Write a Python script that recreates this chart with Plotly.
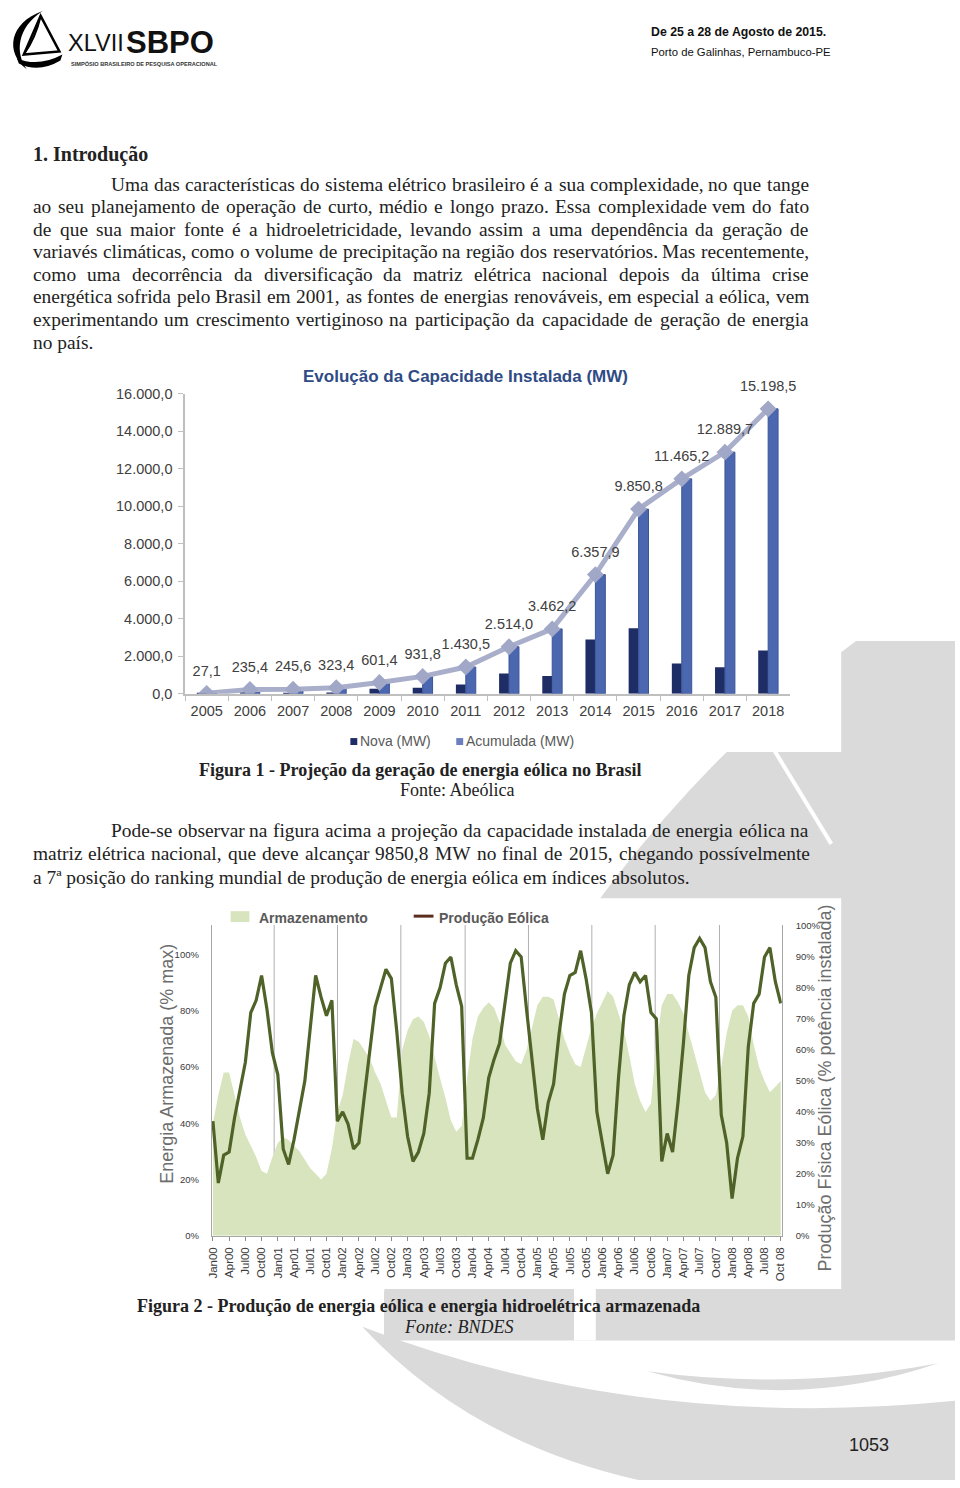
import unicodedata
import plotly.graph_objects as go

W, H = 960, 1488
def px(x): return x / W
def py(y): return 1 - y / H

# ---------------- Figure 1 data ----------------
years = ["2005", "2006", "2007", "2008", "2009", "2010", "2011",
         "2012", "2013", "2014", "2015", "2016", "2017", "2018"]
nova = [27.1, 208.3, 10.2, 77.8, 278.0, 330.4, 498.7,
        1083.5, 948.2, 2895.7, 3492.9, 1614.4, 1424.5, 2308.8]
acumulada = [27.1, 235.4, 245.6, 323.4, 601.4, 931.8, 1430.5,
             2514.0, 3462.2, 6357.9, 9850.8, 11465.2, 12889.7, 15198.5]
cap_ticks = [0, 2000, 4000, 6000, 8000, 10000, 12000, 14000, 16000]
cap_ticktext = ["0,0", "2.000,0", "4.000,0", "6.000,0", "8.000,0",
                "10.000,0", "12.000,0", "14.000,0", "16.000,0"]

# ---------------- Figure 2 data ----------------
MONTHS = ["Jan", "Feb", "Mar", "Apr", "May", "Jun", "Jul", "Aug", "Sep", "Oct", "Nov", "Dec"]
YRS = ["00", "01", "02", "03", "04", "05", "06", "07", "08"]
months = [m + y for y in YRS for m in MONTHS][:106]
armazenamento = [40, 50, 58, 58, 50, 42, 36, 32, 28, 23,
                 22, 28, 33, 35, 34, 32, 30, 27, 24, 22,
                 20, 22, 31, 44, 50, 61, 70, 69, 66, 63,
                 58, 54, 48, 42, 42, 66, 73, 77, 78, 76,
                 71, 64, 56, 49, 41, 37, 39, 56, 70, 78,
                 81, 83, 81, 76, 68, 65, 62, 61, 66, 74,
                 82, 85, 85, 84, 77, 70, 65, 61, 60, 67,
                 74, 79, 83, 87, 85, 79, 73, 64, 54, 48,
                 44, 47, 68, 82, 86, 86, 83, 79, 72, 66,
                 58, 51, 48, 50, 60, 72, 80, 82, 82, 78,
                 68, 60, 55, 51, 53, 55]
producao = [37, 17, 26, 27, 38, 47, 56, 72, 76, 84,
            73, 59, 52, 28, 23, 31, 40, 50, 67, 84,
            77, 71, 76, 37, 40, 36, 28, 30, 45, 60,
            74, 80, 86, 83, 66, 46, 32, 24, 27, 33,
            46, 75, 80, 88, 90, 81, 74, 25, 25, 31,
            38, 51, 57, 62, 75, 88, 92, 90, 73, 58,
            41, 31, 43, 49, 65, 78, 84, 85, 92, 83,
            72, 40, 30, 20, 26, 51, 71, 81, 85, 82,
            84, 72, 70, 24, 33, 27, 43, 62, 84, 93,
            96, 93, 82, 77, 39, 30, 12, 25, 32, 61,
            75, 78, 90, 93, 82, 75]
x_ticktext = ["Jan00", "Apr00", "Jul00", "Oct00", "Jan01", "Apr01", "Jul01", "Oct01",
              "Jan02", "Apr02", "Jul02", "Oct02", "Jan03", "Apr03", "Jul03", "Oct03",
              "Jan04", "Apr04", "Jul04", "Oct04", "Jan05", "Apr05", "Jul05", "Oct05",
              "Jan06", "Apr06", "Jul06", "Oct06", "Jan07", "Apr07", "Jul07", "Oct07",
              "Jan08", "Apr08", "Jul08", "Oct 08"]
left_ticks = [0, 20, 40, 60, 80, 100]
left_ticktext = ["0%", "20%", "40%", "60%", "80%", "100%"]
right_ticks = [0, 10, 20, 30, 40, 50, 60, 70, 80, 90, 100]
right_ticktext = ["0%", "10%", "20%", "30%", "40%", "50%", "60%", "70%", "80%", "90%", "100%"]
grid_positions = [11.33, 23.04, 34.75, 46.64, 58.35, 70.07, 81.78, 93.67]

SANS = "Liberation Sans, Arial, sans-serif"
SERIF = "Liberation Serif, Times New Roman, serif"

def br(v):
    s = f"{v:,.1f}"
    return s.replace(",", "X").replace(".", ",").replace("X", ".")

fig = go.Figure()

# ---- Figure 1 traces
fig.add_trace(go.Bar(x=years, y=nova, name="Nova (MW)", marker_color="#1f2d66",
                     marker_line_width=0, offsetgroup="a", xaxis="x", yaxis="y"))
fig.add_trace(go.Bar(x=years, y=acumulada, name="Acumulada (MW)", marker_color="#4b67b0",
                     marker_line=dict(color="#3b5597", width=1), offsetgroup="b",
                     xaxis="x", yaxis="y"))
fig.add_trace(go.Scatter(x=years, y=acumulada, mode="lines+markers",
                         line=dict(color="#a9afcb", width=5),
                         marker=dict(symbol="diamond", size=13, color="#a1a7c6"),
                         xaxis="x", yaxis="y"))
fig.add_trace(go.Scatter(x=years, y=acumulada, mode="markers+text",
                         text=[br(v) for v in acumulada], textposition="top center",
                         textfont=dict(family=SANS, size=14.5, color="#404040"),
                         marker=dict(size=21, opacity=0),
                         xaxis="x", yaxis="y", cliponaxis=False))

# ---- Figure 2 traces
fig.add_trace(go.Scatter(x=months, y=armazenamento, mode="lines", fill="tozeroy",
                         fillcolor="#d7e4bd", line=dict(width=0, color="#d7e4bd"),
                         xaxis="x2", yaxis="y2"))
fig.add_trace(go.Scatter(x=months, y=producao, mode="lines",
                         line=dict(color="#4f6228", width=3.2),
                         xaxis="x2", yaxis="y3"))

# ---------------- shapes ----------------
def path(cmds):
    out = []
    for c in cmds:
        op = c[0]
        nums = c[1:]
        pts = []
        for i in range(0, len(nums), 2):
            pts.append(f"{px(nums[i]):.5f},{py(nums[i+1]):.5f}")
        out.append(op + " " + " ".join(pts))
    return " ".join(out)

WM = "#dadada"
shapes = []
# watermark (sail logo)
shapes.append(dict(type="path", xref="paper", yref="paper", layer="below", line_width=0,
                   fillcolor=WM,
                   path=path([("M", 860, 640), ("Q", 560, 860, 383, 1297), ("L", 383, 1347),
                              ("L", 960, 1347), ("L", 960, 640)]) + " Z"))
shapes.append(dict(type="rect", xref="paper", yref="paper", layer="below", line_width=0,
                   fillcolor="white", x0=px(575), x1=px(597), y0=py(1347), y1=py(1280)))
shapes.append(dict(type="line", xref="paper", yref="paper", layer="below",
                   line=dict(color="white", width=4),
                   x0=px(768), y0=py(735), x1=px(835), y1=py(845)))
shapes.append(dict(type="path", xref="paper", yref="paper", layer="below", line_width=0,
                   fillcolor=WM,
                   path=path([("M", 649, 1378), ("Q", 796, 1420, 943, 1370),
                              ("Q", 796, 1398, 649, 1378)]) + " Z"))
shapes.append(dict(type="path", xref="paper", yref="paper", layer="below", line_width=0,
                   fillcolor=WM,
                   path=path([("M", 361, 1333), ("Q", 470, 1450, 640, 1488), ("L", 960, 1488),
                              ("L", 960, 1408), ("Q", 640, 1440, 361, 1333)]) + " Z"))
# chart image backgrounds
shapes.append(dict(type="rect", xref="paper", yref="paper", layer="below", line_width=0,
                   fillcolor="white", x0=px(100), x1=px(845), y0=py(752), y1=py(348)))
shapes.append(dict(type="rect", xref="paper", yref="paper", layer="below", line_width=0,
                   fillcolor="white", x0=px(130), x1=px(845), y0=py(1295), y1=py(900)))
# header logo icon
shapes.append(dict(type="path", xref="paper", yref="paper", layer="above", line_width=0,
                   fillcolor="black",
                   path=path([("M", 38, 3), ("C", 4, 15, 0, 45, 22, 62),
                              ("C", 10, 45, 12, 20, 38, 3)]) + " Z"))
shapes.append(dict(type="path", xref="paper", yref="paper", layer="above",
                   line=dict(color="black", width=2.5), fillcolor="white",
                   path=path([("M", 36, 8), ("L", 55, 44), ("L", 19, 47)]) + " Z"))
shapes.append(dict(type="path", xref="paper", yref="paper", layer="above",
                   line=dict(color="black", width=2),
                   path=path([("M", 36, 8), ("Q", 31, 30, 19, 47)])))
shapes.append(dict(type="path", xref="paper", yref="paper", layer="above", line_width=0,
                   fillcolor="black",
                   path=path([("M", 12, 51), ("Q", 34, 60, 58, 47), ("L", 56, 53),
                              ("Q", 34, 66, 14, 56)]) + " Z"))
# figure 1 legend swatches
shapes.append(dict(type="rect", xref="paper", yref="paper", line_width=0, fillcolor="#1f2d66",
                   x0=px(349), x1=px(356), y0=py(745), y1=py(738)))
shapes.append(dict(type="rect", xref="paper", yref="paper", line_width=0, fillcolor="#6b7fc0",
                   x0=px(456), x1=px(463), y0=py(745), y1=py(738)))
# figure 2 legend swatches
shapes.append(dict(type="rect", xref="paper", yref="paper", line_width=0, fillcolor="#d7e4bd",
                   x0=px(228), x1=px(247), y0=py(924), y1=py(913)))
shapes.append(dict(type="line", xref="paper", yref="paper", line=dict(color="#5a2d1e", width=3),
                   x0=px(413), x1=px(433), y0=py(918), y1=py(918)))
# figure 2 vertical gridlines
for g in grid_positions:
    shapes.append(dict(type="line", xref="x2", yref="y2", layer="below",
                       line=dict(color="#b0b0b0", width=1),
                       x0=g, x1=g, y0=0, y1=110.5))

# ---------------- annotations ----------------
ann = []
def text(x, y, s, size, family=SERIF, color="#222222", anchor="left", bold=False,
         italic=False, angle=0):
    t = s
    if bold:
        t = "<b>" + t + "</b>"
    if italic:
        t = "<i>" + t + "</i>"
    ann.append(dict(x=px(x), y=py(y), xref="paper", yref="paper", text=t, showarrow=False,
                    xanchor=anchor, yanchor="middle", textangle=angle,
                    font=dict(family=family, size=size, color=color)))

TIMES = dict(zip("abcdefghijklmnopqrstuvwxyz",
                 [444, 500, 444, 500, 444, 333, 500, 500, 278, 278, 500, 278, 778,
                  500, 500, 500, 500, 333, 389, 278, 500, 500, 722, 500, 500, 444]))
TIMES.update(zip("ABCDEFGHIJKLMNOPQRSTUVWXYZ",
                 [722, 667, 667, 722, 611, 556, 722, 722, 333, 389, 722, 611, 889,
                  722, 722, 556, 722, 667, 556, 611, 722, 722, 944, 722, 722, 611]))
TIMES.update({c: 500 for c in "0123456789"})
TIMES.update({" ": 250, ",": 250, ".": 250, "-": 333, ":": 278, "ª": 276, "(": 333, ")": 333})

def tw(s, size):
    return sum(TIMES.get(unicodedata.normalize("NFD", c)[0], 500) for c in s) * size / 1000

BODY = 19.4
def justified(s, x0, x1, y, size=BODY):
    words = s.split(" ")
    ws = [tw(w, size) for w in words]
    gap = (x1 - x0 - sum(ws)) / (len(words) - 1)
    x = x0
    for w, wd in zip(words, ws):
        text(x - 1, y, w, size)
        x += wd + gap

# header
text(62, 35, "XLVII", 23.5, family=SANS, color="#111111")
text(213, 35, "SBPO", 31, family=SANS, color="#111111", anchor="right", bold=True)
text(65, 56, "SIMPÓSIO BRASILEIRO DE PESQUISA OPERACIONAL", 5.6, family=SANS,
     color="#333333", bold=True)
text(651, 24, "De 25 a 28 de Agosto de 2015.", 12.3, family=SANS, color="#111111", bold=True)
text(651, 44, "Porto de Galinhas, Pernambuco-PE", 11.3, family=SANS, color="#111111")

# body paragraph 1
text(26, 148, "1. Introdução", 20, bold=True)
p1 = [
    ("Uma das características do sistema elétrico brasileiro é a sua complexidade, no que tange", 106, 178),
    ("ao seu planejamento de operação de curto, médio e longo prazo. Essa complexidade vem do fato", 27, 201),
    ("de que sua maior fonte é a hidroeletricidade, levando assim a uma dependência da geração de", 27, 224),
    ("variavés climáticas, como o volume de precipitação na região dos reservatórios. Mas recentemente,", 27, 246),
    ("como uma decorrência da diversificação da matriz elétrica nacional depois da última crise", 27, 269),
    ("energética sofrida pelo Brasil em 2001, as fontes de energias renováveis, em especial a eólica, vem", 27, 292),
    ("experimentando um crescimento vertiginoso na participação da capacidade de geração de energia", 27, 315),
]
for s, x0, y in p1:
    justified(s, x0, 811, y)
text(26, 338, "no país.", BODY)

# figure 1 title, legend, caption
text(465, 373, "Evolução da Capacidade Instalada (MW)", 17, family=SANS, color="#2f4b85",
     anchor="center", bold=True)
text(357, 741, "Nova (MW)", 14, family=SANS, color="#595959")
text(464, 741, "Acumulada (MW)", 14, family=SANS, color="#595959")
text(420, 770, "Figura 1 - Projeção da geração de energia eólica no Brasil", 18,
     anchor="center", bold=True)
text(457, 790, "Fonte: Abeólica", 18, anchor="center")

# body paragraph 2
justified("Pode-se observar na figura acima a projeção da capacidade instalada de energia eólica na", 106, 811, 831)
justified("matriz elétrica nacional, que deve alcançar 9850,8 MW no final de 2015, chegando possívelmente", 27, 811, 855)
text(26, 879, "a 7ª posição do ranking mundial de produção de energia eólica em índices absolutos.", BODY)

# figure 2 legend, axis titles, caption
text(255, 920, "Armazenamento", 14, family=SANS, color="#595959", bold=True)
text(437, 920, "Produção Eólica", 14, family=SANS, color="#595959", bold=True)
text(163, 1067, "Energia Armazenada (% max)", 18, family=SANS, color="#6d6d6d",
     anchor="center", angle=-90)
text(829, 1092, "Produção Física Eólica (% potência instalada)", 18, family=SANS,
     color="#6d6d6d", anchor="center", angle=-90)
text(418, 1312, "Figura 2 - Produção de energia eólica e energia hidroelétrica armazenada", 18,
     anchor="center", bold=True)
text(458, 1333, "Fonte: BNDES", 18, anchor="center", italic=True)

# page number
text(873, 1453, "1053", 18, family=SANS, color="#222222", anchor="center")

# ---------------- layout ----------------
AX = "#bfbfbf"
fig.update_layout(
    width=W, height=H, margin=dict(l=0, r=0, t=0, b=0),
    paper_bgcolor="white", plot_bgcolor="rgba(0,0,0,0)", showlegend=False,
    barmode="group", bargap=0.54, bargroupgap=0,
    shapes=shapes, annotations=ann,
    xaxis=dict(domain=[px(182), px(793)], anchor="y", type="category",
               categoryarray=years, range=[-0.5, 13.5], showgrid=False, zeroline=False,
               showline=True, linecolor=AX, linewidth=1.5, ticks="outside",
               tickson="boundaries", ticklen=5, tickcolor=AX, ticklabelstandoff=3,
               tickfont=dict(family=SANS, size=14.5, color="#404040"), fixedrange=True),
    yaxis=dict(domain=[py(693.3), py(390)], anchor="x", range=[0, 16000],
               tickvals=cap_ticks, ticktext=cap_ticktext, showgrid=False, zeroline=False,
               showline=True, linecolor=AX, linewidth=1.5, ticks="outside", ticklen=5,
               tickcolor=AX, ticklabelstandoff=3,
               tickfont=dict(family=SANS, size=14.5, color="#404040"), fixedrange=True),
    xaxis2=dict(domain=[px(209), px(785)], anchor="y2", type="category",
                categoryarray=months, range=[-0.2, 105.2], showgrid=False, zeroline=False,
                showline=True, linecolor="#a6a6a6", linewidth=1, ticks="outside",
                ticklen=4, tickcolor="#8c8c8c", tickvals=months[::3], ticktext=x_ticktext,
                tickangle=-90, ticklabelstandoff=2,
                tickfont=dict(family=SANS, size=11.5, color="#3a3a3a"), fixedrange=True),
    yaxis2=dict(domain=[py(1241), py(927)], anchor="x2", range=[0, 110.5],
                tickvals=left_ticks, ticktext=left_ticktext, showgrid=False, zeroline=False,
                showline=True, linecolor="#a6a6a6", linewidth=1, ticks="",
                ticklabelstandoff=10,
                tickfont=dict(family=SANS, size=9.5, color="#3a3a3a"), fixedrange=True),
    yaxis3=dict(overlaying="y2", anchor="x2", side="right", range=[0, 100.3],
                tickvals=right_ticks, ticktext=right_ticktext, showgrid=False,
                zeroline=False, showline=True, linecolor="#a6a6a6", linewidth=1, ticks="",
                ticklabelstandoff=11,
                tickfont=dict(family=SANS, size=9.5, color="#3a3a3a"), fixedrange=True),
)

fig.write_html("out.html", config={"displayModeBar": False})
